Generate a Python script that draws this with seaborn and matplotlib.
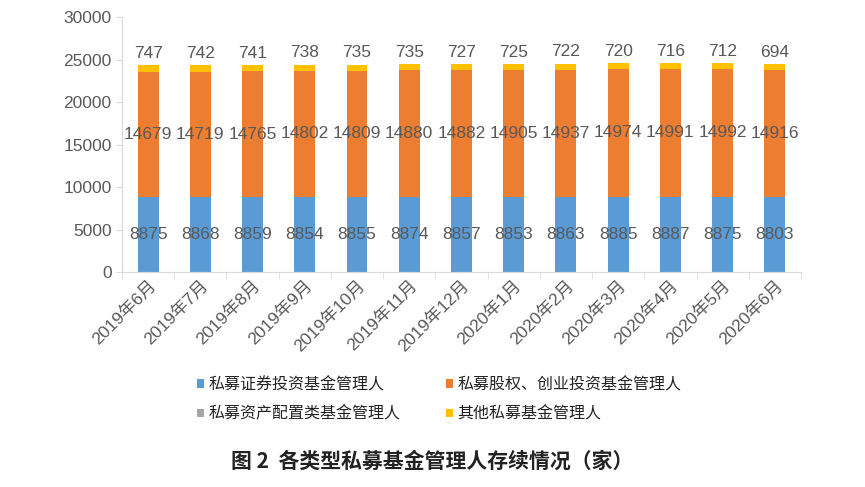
import numpy as np
import pandas as pd
import seaborn as sns
import matplotlib.pyplot as plt
from matplotlib.patches import Patch

# %% Data

months = ['2019年6月', '2019年7月', '2019年8月', '2019年9月', '2019年10月',
          '2019年11月', '2019年12月', '2020年1月', '2020年2月', '2020年3月',
          '2020年4月', '2020年5月', '2020年6月']
securities = [8875, 8868, 8859, 8854, 8855, 8874, 8857, 8853, 8863, 8885,
              8887, 8875, 8803]
equity_vc = [14679, 14719, 14765, 14802, 14809, 14880, 14882, 14905, 14937,
             14974, 14991, 14992, 14916]
asset_alloc = [9, 9, 9, 9, 9, 9, 9, 9, 9, 9, 9, 9, 9]
others = [747, 742, 741, 738, 735, 735, 727, 725, 722, 720, 716, 712, 694]

names = ['私募证券投资基金管理人', '私募股权、创业投资基金管理人',
         '私募资产配置类基金管理人', '其他私募基金管理人']
colors = ['#5B9BD5', '#ED7D31', '#A5A5A5', '#FFC000']

# %% Plot

sns.set_style('white')
plt.rcParams['font.family'] = ['Liberation Sans', 'Noto Sans CJK SC']
txt_col = '#595959'

fig = plt.figure(figsize=(8.65, 4.87), dpi=100)
ax = fig.add_axes([0.141, 0.441, 0.785, 0.524])

df = pd.DataFrame({'month': months, 'sec': securities, 'eq': equity_vc,
                   'aa': asset_alloc, 'oth': others})
bottom = np.zeros(len(months))
for col, color in zip(['sec', 'eq', 'aa', 'oth'], colors):
    sns.barplot(data=df, x='month', y=col, color=color, width=0.4,
                bottom=bottom.copy(), linewidth=0, saturation=1, ax=ax)
    bottom = bottom + df[col].values

conts = ax.containers
ax.bar_label(conts[0], labels=[str(v) for v in securities],
             label_type='center', fontsize=12.5, color=txt_col)
ax.bar_label(conts[1], labels=[str(v) for v in equity_vc],
             label_type='center', fontsize=12.5, color=txt_col)
ax.bar_label(conts[3], labels=[str(v) for v in others],
             padding=3, fontsize=12.5, color=txt_col)

ax.set_ylim(0, 30000)
ax.set_yticks(np.arange(0, 30001, 5000))
ax.set_xlim(-0.5, len(months) - 0.5)
ax.set_xlabel('')
ax.set_ylabel('')
ax.tick_params(axis='y', labelsize=12.5, colors=txt_col, length=4,
               color='#d9d9d9', left=True)
ax.tick_params(axis='x', labelsize=12.5, colors=txt_col, length=0, pad=4)
ax.set_xticks(range(len(months)))
ax.set_xticklabels(months, rotation=45, ha='right', rotation_mode='anchor')
ax.set_xticks(np.arange(-0.5, len(months)), minor=True)
ax.tick_params(axis='x', which='minor', length=5, color='#d9d9d9', bottom=True)
for s in ['top', 'right']:
    ax.spines[s].set_visible(False)
for s in ['left', 'bottom']:
    ax.spines[s].set_color('#d9d9d9')

# legend fills column-wise, so order handles to read row by row
order = [0, 2, 1, 3]
handles = [Patch(facecolor=colors[i], edgecolor='none') for i in order]
fig.legend(handles, [names[i] for i in order], loc='center',
           bbox_to_anchor=(0.508, 0.18), ncol=2, frameon=False,
           handlelength=0.45, handleheight=0.45,
           handletextpad=0.3, columnspacing=2.8, labelspacing=0.8,
           labelcolor='#222222', prop={'family': 'Noto Sans CJK SC', 'size': 11.5})

fig.text(0.5, 0.052, '图 2  各类型私募基金管理人存续情况（家）', ha='center',
         va='center', fontsize=15, fontweight='bold', color='#222222',
         family=['Noto Sans CJK SC'])

fig.savefig('out.png', dpi=100)
